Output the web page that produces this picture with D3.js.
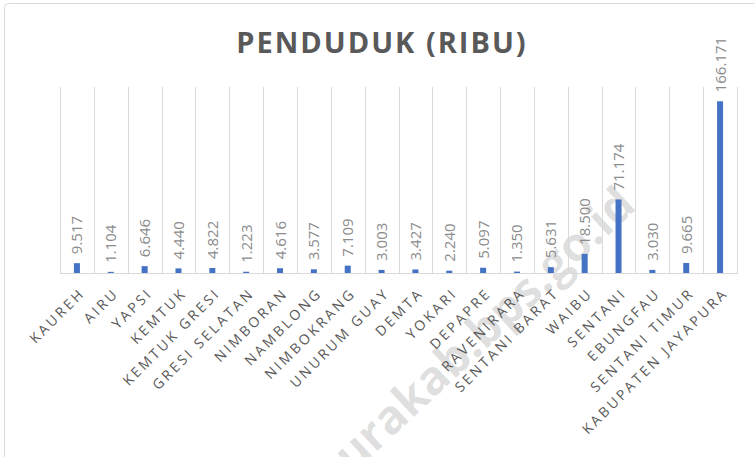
<!DOCTYPE html>
<html>
<head>
<meta charset="utf-8">
<script src="https://cdn.jsdelivr.net/npm/d3@7"></script>
<style>
  html, body { margin: 0; padding: 0; background: #fff; }
  svg { display: block; }
</style>
</head>
<body>
<svg id="chart" width="754" height="457"></svg>
<script>
const title = "PENDUDUK (RIBU)";
const categories = ["KAUREH", "AIRU", "YAPSI", "KEMTUK", "KEMTUK GRESI", "GRESI SELATAN",
  "NIMBORAN", "NAMBLONG", "NIMBOKRANG", "UNURUM GUAY", "DEMTA", "YOKARI", "DEPAPRE",
  "RAVENIRARA", "SENTANI BARAT", "WAIBU", "SENTANI", "EBUNGFAU", "SENTANI TIMUR",
  "KABUPATEN JAYAPURA"];
const values = [9.517, 1.104, 6.646, 4.440, 4.822, 1.223, 4.616, 3.577, 7.109, 3.003,
  3.427, 2.240, 5.097, 1.350, 5.631, 18.500, 71.174, 3.030, 9.665, 166.171];
const labels = ["9.517", "1.104", "6.646", "4.440", "4.822", "1.223", "4.616", "3.577",
  "7.109", "3.003", "3.427", "2.240", "5.097", "1.350", "5.631", "18.500", "71.174",
  "3.030", "9.665", "166.171"];
const yMax = 180;
const watermark = "jayapurakab.bps.go.id";

const svg = d3.select("#chart");
const mLeft = 60, mRight = 737, mTop = 87, mBottom = 273;

// outer border
svg.append("rect").attr("x", 4.5).attr("y", 3.5).attr("width", 780).attr("height", 500)
  .attr("rx", 4).attr("fill", "none").attr("stroke", "#d9d9d9").attr("stroke-width", 1);

const x = d3.scaleBand().domain(categories).range([mLeft, mRight]).paddingInner(0).paddingOuter(0);
const y = d3.scaleLinear().domain([0, yMax]).range([mBottom, mTop]);

// watermark (behind marks)
svg.append("text")
  .attr("transform", "translate(638,208) rotate(-43)")
  .attr("text-anchor", "end")
  .attr("font-family", "'Open Sans', sans-serif")
  .attr("font-weight", "bold")
  .attr("font-size", 47)
  .attr("fill", "#000")
  .attr("fill-opacity", 0.13)
  .text(watermark);

// vertical gridlines at category boundaries
const bounds = categories.map(c => x(c)).concat([x(categories[categories.length - 1]) + x.bandwidth()]);
svg.append("g").selectAll("line").data(bounds).join("line")
  .attr("x1", d => Math.round(d) + 0.5).attr("x2", d => Math.round(d) + 0.5)
  .attr("y1", y(yMax)).attr("y2", y(0))
  .attr("stroke", "#d9d9d9").attr("stroke-width", 1);

// baseline
svg.append("line").attr("x1", mLeft).attr("x2", mRight + 1)
  .attr("y1", y(0) + 0.5).attr("y2", y(0) + 0.5)
  .attr("stroke", "#d9d9d9").attr("stroke-width", 1);

// bars
const bw = 6;
svg.append("g").selectAll("rect").data(values).join("rect")
  .attr("x", (d, i) => x(categories[i]) + x.bandwidth() / 2 - bw / 2)
  .attr("y", d => y(d))
  .attr("width", bw)
  .attr("height", d => y(0) - y(d))
  .attr("fill", "#4472c4");

// value labels
svg.append("g").selectAll("text").data(values).join("text")
  .attr("transform", (d, i) => `translate(${x(categories[i]) + x.bandwidth() / 2 + 5.5},${y(d) - 9}) rotate(-90)`)
  .attr("text-anchor", "start")
  .attr("font-family", "'Open Sans', sans-serif")
  .attr("font-size", 15)
  .attr("fill", "#8c8c8c")
  .text((d, i) => labels[i]);

// category labels
svg.append("g").selectAll("text").data(categories).join("text")
  .attr("transform", d => `translate(${x(d) + x.bandwidth() / 2 + 9},${y(0) + 21}) rotate(-45)`)
  .attr("text-anchor", "end")
  .attr("font-family", "'Open Sans', sans-serif")
  .attr("font-size", 14)
  .attr("letter-spacing", "2.8px")
  .attr("fill", "#595959")
  .text(d => d);

// title
svg.append("text")
  .attr("x", 382).attr("y", 53)
  .attr("text-anchor", "middle")
  .attr("font-family", "'Open Sans', sans-serif")
  .attr("font-weight", "bold")
  .attr("font-size", 29)
  .attr("letter-spacing", "2px")
  .attr("fill", "#595959")
  .text(title);
</script>
</body>
</html>
